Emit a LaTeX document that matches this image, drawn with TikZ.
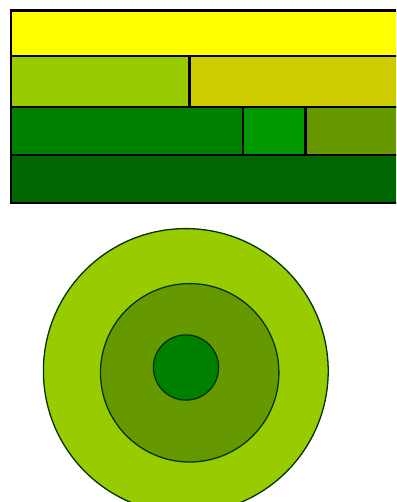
\documentclass[tikz,border=0pt]{standalone}
\begin{document}
\begin{tikzpicture}[x=1pt,y=-1pt,
  cell/.style={draw=black,line width=2.4pt},
  ring/.style={draw=black!80!green,line width=1.3pt}]
\definecolor{cYel}{HTML}{FFFF00}
\definecolor{cLime}{HTML}{99CC00}
\definecolor{cOlive}{HTML}{CCCC00}
\definecolor{cGreen}{HTML}{008000}
\definecolor{cMid}{HTML}{009900}
\definecolor{cMoss}{HTML}{669900}
\definecolor{cDark}{HTML}{006600}
\useasboundingbox (0,0) rectangle (396,502);
\clip (0,0) rectangle (396,502);
% top block
\fill[cYel] (11,10.6) rectangle (410,56.3);
\fill[cLime] (11,56.3) rectangle (189.3,106.8);
\fill[cOlive] (189.3,56.3) rectangle (410,106.8);
\fill[cGreen] (11,106.8) rectangle (243.2,154.8);
\fill[cMid] (243.2,106.8) rectangle (305.4,154.8);
\fill[cMoss] (305.4,106.8) rectangle (410,154.8);
\fill[cDark] (11,154.8) rectangle (410,202.8);
\draw[cell] (410,10.6) -- (11,10.6) -- (11,202.8) -- (410,202.8);
\draw[cell] (11,56.3) -- (410,56.3);
\draw[cell] (11,106.8) -- (410,106.8);
\draw[cell] (11,154.8) -- (410,154.8);
\draw[cell] (189.3,56.3) -- (189.3,106.8);
\draw[cell] (243.2,106.8) -- (243.2,154.8);
\draw[cell] (305.4,106.8) -- (305.4,154.8);
% rings
\filldraw[ring,fill=cLime] (185.8,371) circle (142.4);
\filldraw[ring,fill=cMoss] (189.7,372.8) circle (89.2);
\filldraw[ring,fill=cGreen] (186,367.5) circle (32.6);
\end{tikzpicture}
\end{document}
